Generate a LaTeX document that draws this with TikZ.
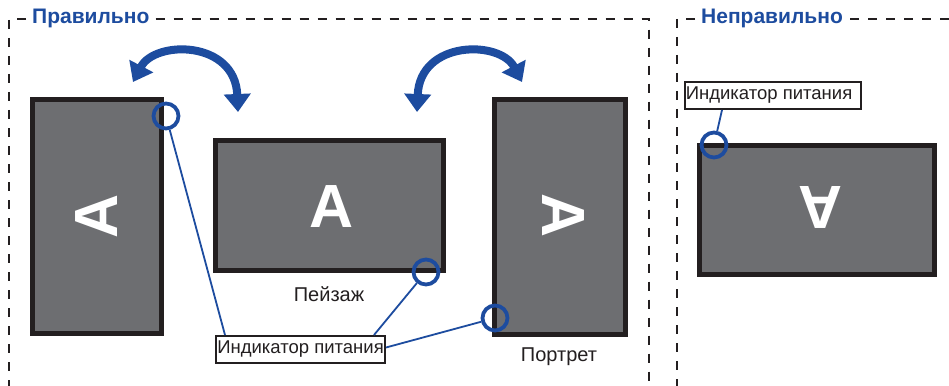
\documentclass[tikz,border=0pt]{standalone}
\usepackage{fontspec}
\setmainfont{Liberation Sans}
\usetikzlibrary{arrows.meta,calc}
\definecolor{mblue}{HTML}{1D4C9F}
\definecolor{mdark}{HTML}{231F20}
\definecolor{mgray}{HTML}{6D6E71}
\tikzset{
  monitor/.style={draw=mdark, fill=mgray, line width=5pt, inner sep=0pt},
  bigA/.style={text=white, font=\fontsize{61}{61}\selectfont\bfseries, inner sep=0pt},
  ledring/.style={circle, draw=mblue, line width=3.8pt, minimum size=25pt, inner sep=0pt},
  leader/.style={draw=mblue, line width=1.8pt},
  callout/.style={draw=mdark, fill=white, line width=2pt, inner sep=0pt, minimum height=27pt,
    font=\fontsize{18.5}{20}\selectfont, text=mdark},
  caption/.style={font=\fontsize{20}{22}\selectfont, text=mdark, inner sep=0pt},
  title/.style={font=\fontsize{21}{23}\selectfont\bfseries, text=mblue, inner sep=0pt, anchor=west},
  frame/.style={draw=mdark, line width=2.5pt, dash pattern=on 9pt off 9pt},
  swing/.style={draw=mblue, line width=8pt, {Triangle[length=18pt,width=26pt]}-{Triangle[length=18pt,width=26pt]}}
}
\begin{document}
\begin{tikzpicture}[x=1pt,y=-1pt]
\useasboundingbox (0,0) rectangle (949,385);
\clip (0,0) rectangle (949,385);
\fill[white] (0,0) rectangle (949,385);
% frames
\node[title] (tok) at (32,18) {Правильно};
\node[title] (tbad) at (701,18) {Неправильно};
\draw[frame] ($(tok.west)+(-6,1)$) -- (9,19) -- (9,400);
\draw[frame] ($(tok.east)+(6,1)$) -- (649,19) -- (649,400);
\draw[frame] ($(tbad.west)+(-6,1)$) -- (677,19) -- (677,400);
\draw[frame] ($(tbad.east)+(7,1)$) -- (960,19);
% monitors
\node[monitor, minimum width=129pt, minimum height=234pt] (ml) at (97,216.5) {};
\node[monitor, minimum width=228pt, minimum height=130pt] (mm) at (329.5,205.5) {};
\node[monitor, minimum width=131pt, minimum height=235pt] (mr) at (560,217) {};
\node[monitor, minimum width=235pt, minimum height=129pt] (mw) at (817,210) {};
\node[bigA, rotate=90] (al) at (ml.center) {A};
\node[bigA] (am) at (332,207) {A};
\node[bigA, rotate=-90] (ar) at (563,216) {A};
\node[bigA, rotate=180] (aw) at (820,207) {A};
% captions
\node[caption] (pl) at (329,294) {Пейзаж};
\node[caption] (pp) at (559,357) {Портрет};
% swing arrows
\coordinate (s1a) at (133,82);
\coordinate (s1b) at (238,112);
\coordinate (s2a) at (417,112);
\coordinate (s2b) at (522,82);
\draw[swing] (s1a) .. controls (155,40) and (235,40) .. (s1b);
\draw[swing] (s2a) .. controls (420,40) and (500,40) .. (s2b);
% indicator rings
\node[ledring] (c1) at (166,116) {};
\node[ledring] (c2) at (426,272) {};
\node[ledring] (c3) at (495,318) {};
\node[ledring] (c4) at (714,145) {};
% callouts
\node[callout, minimum width=169pt] (lab) at (300.5,349.5) {Индикатор питания};
\node[callout, minimum width=176pt] (lab2) at (773,95.5) {\hspace*{-8pt}Индикатор питания};
\draw[leader] (c1) -- ($(lab.north west)+(10,0)$);
\draw[leader] (c2) -- ($(lab.north west)+(159,0)$);
\draw[leader] (c3) -- ($(lab.east)+(0,-2)$);
\draw[leader] (c4) -- ($(lab2.south west)+(38,0)$);
\end{tikzpicture}
\end{document}
